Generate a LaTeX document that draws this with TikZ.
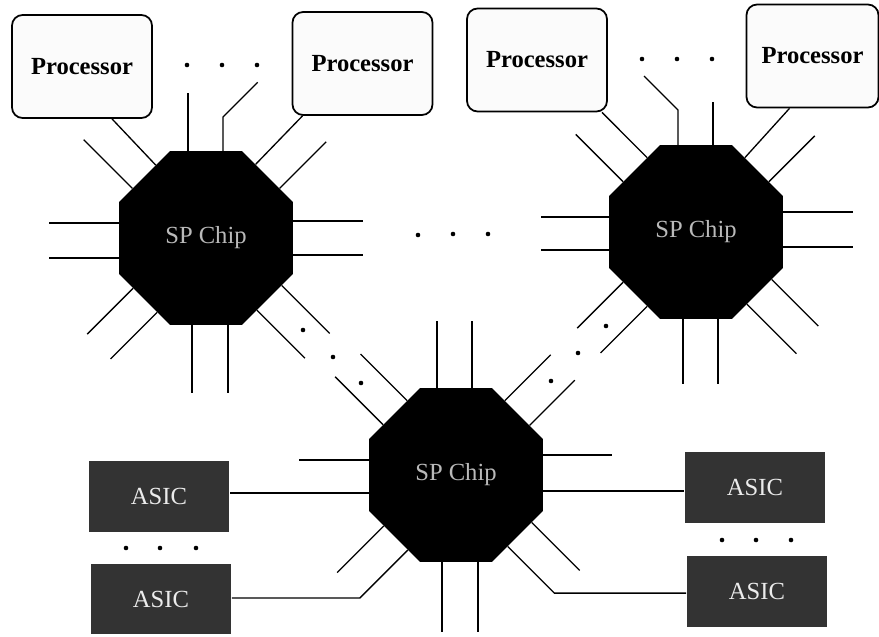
\documentclass[tikz,border=0pt]{standalone}
\usepackage{fontspec}
\setmainfont{Liberation Serif}
\usetikzlibrary{shapes.geometric,calc}

\tikzset{
  proc/.style={draw,line width=1pt,rounded corners=6pt,fill=gray!3,
    minimum width=2.8cm,minimum height=2.06cm,
    font=\bfseries\fontsize{14}{16}\selectfont},
  asic/.style={fill=black!80,minimum width=2.82cm,minimum height=1.41cm,
    text=gray!15,font=\fontsize{14}{16}\selectfont},
  chip/.style={regular polygon,regular polygon sides=8,fill=black,
    inner sep=0pt,minimum size=3.766cm,text=gray!55,
    font=\fontsize{14}{16}\selectfont},
  wire/.style={line width=0.75pt}
}

\begin{document}
\begin{tikzpicture}[x=0.02cm,y=-0.02cm]
		\useasboundingbox (0,0) rectangle (879,636);

		\node[proc] (procA) at (82,66.5) {Processor};
		\node[proc] (procB) at (362.5,63.5) {Processor};
		\node[proc] (procC) at (537,60) {Processor};
		\node[proc,minimum width=2.64cm] (procD) at (812.5,56) {Processor};

		\node[chip] (chipL) at (206,238) {SP Chip};
		\node[chip] (chipR) at (696,232) {SP Chip};
		\node[chip] (chipB) at (456,475) {SP Chip};

		\node[asic] (asicA) at (159,496.5) {ASIC};
		\node[asic] (asicB) at (161,599) {ASIC};
		\node[asic] (asicC) at (755,487.5) {ASIC};
		\node[asic] (asicD) at (757,591.5) {ASIC};

		% free stubs: face angle / offset along face / length
		\foreach \a/\o/\l in {270/-18/58, 315/17/66, 0/-17/70, 0/17/70,
		    45/-20/68, 45/15/68, 90/14/68, 90/-22/68, 135/16/65,
		    135/-18/66, 180/15/70, 180/-20/70, 225/-17/69}
			\draw[wire] ($(chipL)+(\a:87)+(\a+90:\o)$) -- ++(\a:\l);

		\foreach \a/\o/\l in {270/17/43, 225/-16/67, 315/16/65, 0/-20/70,
		    0/15/70, 45/-20/66, 45/15/70, 90/13/65, 90/-22/65,
		    135/16/65, 135/-18/66, 180/15/68, 180/-18/68}
			\draw[wire] ($(chipR)+(\a:87)+(\a+90:\o)$) -- ++(\a:\l);

		\foreach \a/\o/\l in {270/-19/67, 270/16/67, 225/18/66, 225/-16/68,
		    315/-18/65, 315/17/64, 0/-20/69, 45/-20/68, 90/14/70,
		    90/-22/70, 135/15/66, 180/15/70}
			\draw[wire] ($(chipB)+(\a:87)+(\a+90:\o)$) -- ++(\a:\l);

		% bent stubs on top
		\draw[wire] ($(chipL)+(270:87)+(0:17)$) -- ++(270:34) -- ++(315:49);
		\draw[wire] ($(chipR)+(270:87)+(0:-18)$) -- ++(270:35) -- ++(225:48);

		% chips to processors
		\draw[wire] ($(chipL)+(225:87)+(315:16)$) -- ($(procA.south)+(30,0)$);
		\draw[wire] ($(chipL)+(315:87)+(45:-17)$) -- ($(procB.south)+(-60,0)$);
		\draw[wire] ($(chipR)+(225:87)+(315:18)$) -- ($(procC.south)+(65,0)$);
		\draw[wire] ($(chipR)+(315:87)+(45:-18)$) -- ($(procD.south)+(-23,0)$);

		% chip to ASICs
		\coordinate (wA) at ($(chipB)+(180:87)+(270:-18)$);
		\coordinate (wB) at ($(chipB)+(135:87)+(225:-19)$);
		\coordinate (kB) at ($(wB)+(135:68)$);
		\coordinate (wC) at ($(chipB)+(0:87)+(90:16)$);
		\coordinate (wD) at ($(chipB)+(45:87)+(135:14)$);
		\coordinate (kD) at ($(wD)+(45:66)$);

		\draw[wire] (wA) -- (wA -| asicA.east);
		\draw[wire] (wB) -- (kB) -- (kB -| asicB.east);
		\draw[wire] (wC) -- (wC -| asicC.west);
		\draw[wire] (wD) -- (kD) -- (kD -| asicD.west);

		% dots
		\foreach \x/\y in {187/65, 222/65, 257/65, 642/59, 677/59, 712/59,
		    418/235, 453/234, 488/234, 303/330, 333/357, 361/383,
		    606/326, 578/353, 551/381, 126/548, 160/548, 196/548,
		    722/540, 756/540, 791/540}
			\fill (\x,\y) circle (2.3);
	\end{tikzpicture}
\end{document}
